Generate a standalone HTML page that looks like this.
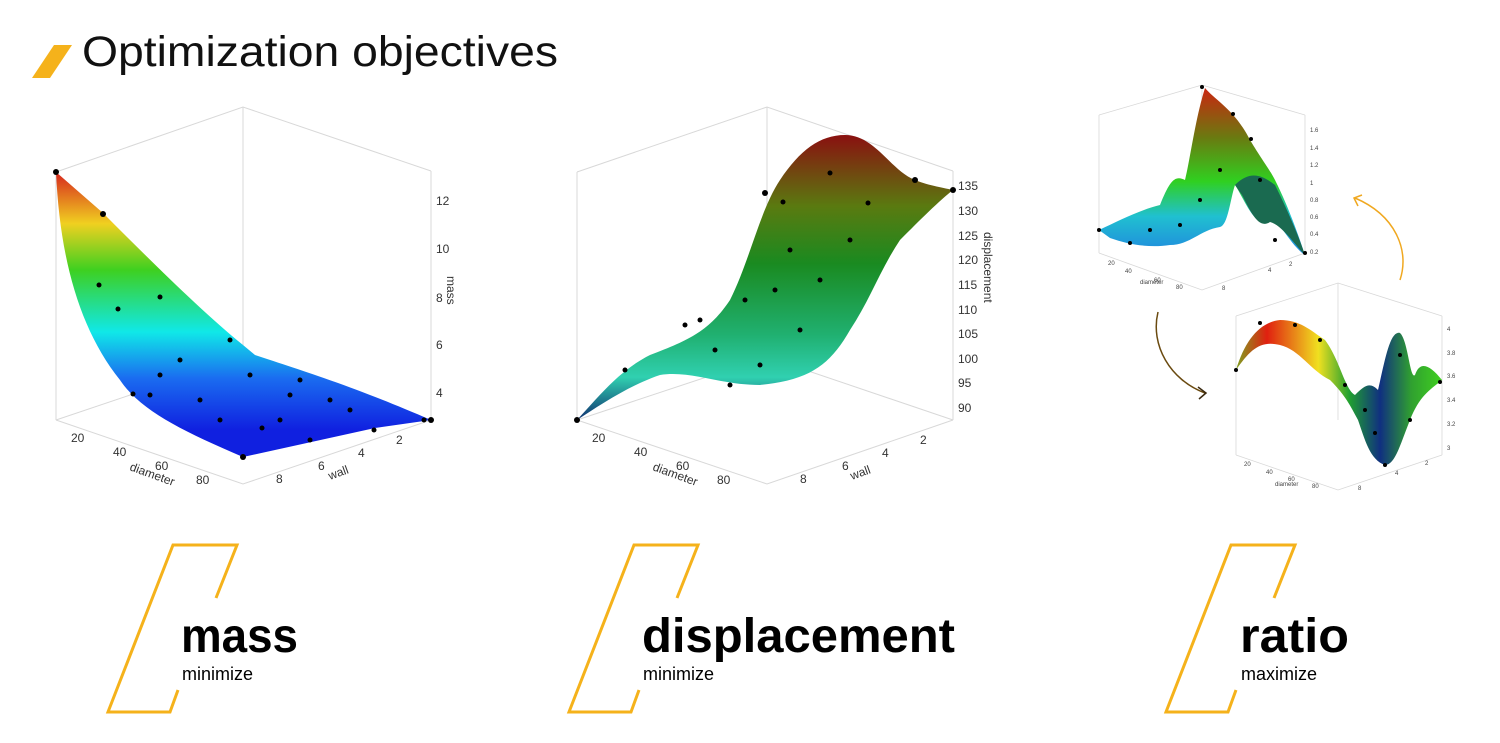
<!DOCTYPE html>
<html><head><meta charset="utf-8"><style>
body{margin:0;background:#fff;width:1500px;height:743px;overflow:hidden;font-family:"Liberation Sans",sans-serif}
svg{position:absolute;left:0;top:0}
</style></head><body>
<svg width="1500" height="743" viewBox="0 0 1500 743" xmlns="http://www.w3.org/2000/svg">
<defs>
<linearGradient id="g1" x1="0" y1="172" x2="0" y2="430" gradientUnits="userSpaceOnUse">
<stop offset="0" stop-color="#d7261e"/><stop offset="0.2" stop-color="#f0d020"/><stop offset="0.38" stop-color="#3ed020"/><stop offset="0.62" stop-color="#10e8e8"/><stop offset="0.8" stop-color="#1a6cf0"/><stop offset="1" stop-color="#1020e0"/></linearGradient>
<linearGradient id="g2" x1="0" y1="135" x2="0" y2="420" gradientUnits="userSpaceOnUse">
<stop offset="0" stop-color="#8a1010"/><stop offset="0.25" stop-color="#5a7a10"/><stop offset="0.45" stop-color="#1a8a20"/><stop offset="0.7" stop-color="#20b070"/><stop offset="0.85" stop-color="#30d0b0"/><stop offset="1" stop-color="#103070"/></linearGradient>
<linearGradient id="g3" x1="0" y1="85" x2="0" y2="260" gradientUnits="userSpaceOnUse">
<stop offset="0" stop-color="#d02010"/><stop offset="0.3" stop-color="#6a7a10"/><stop offset="0.55" stop-color="#30d020"/><stop offset="0.75" stop-color="#20c0d0"/><stop offset="1" stop-color="#2080e0"/></linearGradient>
<linearGradient id="g4" x1="1236" y1="0" x2="1442" y2="0" gradientUnits="userSpaceOnUse">
<stop offset="0" stop-color="#80a020"/><stop offset="0.15" stop-color="#e02010"/><stop offset="0.4" stop-color="#f0e020"/><stop offset="0.55" stop-color="#20a030"/><stop offset="0.7" stop-color="#103080"/><stop offset="0.85" stop-color="#30a030"/><stop offset="1" stop-color="#40d020"/></linearGradient>
</defs>
<!-- title -->
<polygon points="54,45 72,45 50,78 32,78" fill="#f5b21b"/>
<text x="82" y="66" font-size="43" fill="#111" textLength="476" lengthAdjust="spacingAndGlyphs">Optimization objectives</text>

<!-- chart 1 -->
<g stroke="#d8d8d8" stroke-width="1" fill="none">
<polyline points="56,172 243,107 431,171"/><line x1="243" y1="107" x2="243" y2="357"/>
<polyline points="56,420 243,484 431,420"/><line x1="56" y1="172" x2="56" y2="420"/><line x1="431" y1="171" x2="431" y2="420"/>
<line x1="56" y1="420" x2="243" y2="357"/><line x1="243" y1="357" x2="431" y2="420"/>
</g>
<path d="M56,172 L103,213 C150,260 200,310 243,345 L255,355 C300,370 350,385 431,420 L375,428 L243,457 C180,430 140,410 120,380 C80,330 60,260 56,172Z" fill="url(#g1)"/>
<g fill="#000"><circle cx="56" cy="172" r="3"/><circle cx="103" cy="214" r="3"/><circle cx="99" cy="285" r="2.5"/><circle cx="118" cy="309" r="2.5"/><circle cx="160" cy="297" r="2.5"/><circle cx="133" cy="394" r="2.5"/><circle cx="243" cy="457" r="3"/><circle cx="431" cy="420" r="3"/><circle cx="424" cy="420" r="2.5"/><circle cx="230" cy="340" r="2.5"/><circle cx="250" cy="375" r="2.5"/><circle cx="300" cy="380" r="2.5"/><circle cx="200" cy="400" r="2.5"/><circle cx="280" cy="420" r="2.5"/><circle cx="330" cy="400" r="2.5"/><circle cx="374" cy="430" r="2.5"/><circle cx="180" cy="360" r="2.5"/><circle cx="150" cy="395" r="2.5"/><circle cx="262" cy="428" r="2.5"/><circle cx="310" cy="440" r="2.5"/><circle cx="350" cy="410" r="2.5"/><circle cx="220" cy="420" r="2.5"/><circle cx="290" cy="395" r="2.5"/><circle cx="160" cy="375" r="2.5"/></g>
<g font-size="12" fill="#333">
<text x="436" y="205">12</text><text x="436" y="253">10</text><text x="436" y="302">8</text><text x="436" y="349">6</text><text x="436" y="397">4</text>
<text x="447" y="276" transform="rotate(90 447 276)">mass</text>
<text x="71" y="442">20</text><text x="113" y="456">40</text><text x="155" y="470">60</text><text x="196" y="484">80</text>
<text x="129" y="470" transform="rotate(20 129 470)">diameter</text>
<text x="276" y="483">8</text><text x="318" y="470">6</text><text x="358" y="457">4</text><text x="396" y="444">2</text>
<text x="330" y="480" transform="rotate(-20 330 480)">wall</text>
</g>

<!-- chart 2 -->
<g stroke="#d8d8d8" stroke-width="1" fill="none">
<polyline points="577,172 767,107 953,171"/><line x1="767" y1="107" x2="767" y2="357"/>
<polyline points="577,420 767,484 953,420"/><line x1="577" y1="172" x2="577" y2="420"/><line x1="953" y1="171" x2="953" y2="420"/>
<line x1="577" y1="420" x2="767" y2="357"/><line x1="767" y1="357" x2="953" y2="420"/>
</g>
<path d="M577,420 C600,395 620,370 650,355 C690,340 710,330 730,300 C750,260 760,210 780,180 C800,150 820,135 845,135 C875,135 890,170 915,180 C930,186 945,188 953,190 C940,200 920,220 900,240 C880,270 870,300 850,330 C830,365 810,380 760,385 C720,385 690,370 660,375 C630,385 600,405 577,420Z" fill="url(#g2)"/>
<g fill="#000"><circle cx="577" cy="420" r="3"/><circle cx="625" cy="370" r="2.5"/><circle cx="685" cy="325" r="2.5"/><circle cx="765" cy="193" r="3"/><circle cx="783" cy="202" r="2.5"/><circle cx="830" cy="173" r="2.5"/><circle cx="868" cy="203" r="2.5"/><circle cx="915" cy="180" r="3"/><circle cx="953" cy="190" r="3"/><circle cx="790" cy="250" r="2.5"/><circle cx="745" cy="300" r="2.5"/><circle cx="715" cy="350" r="2.5"/><circle cx="760" cy="365" r="2.5"/><circle cx="800" cy="330" r="2.5"/><circle cx="820" cy="280" r="2.5"/><circle cx="850" cy="240" r="2.5"/><circle cx="730" cy="385" r="2.5"/><circle cx="700" cy="320" r="2.5"/><circle cx="775" cy="290" r="2.5"/></g>
<g font-size="12" fill="#333">
<text x="958" y="190">135</text><text x="958" y="215">130</text><text x="958" y="240">125</text><text x="958" y="264">120</text><text x="958" y="289">115</text><text x="958" y="314">110</text><text x="958" y="338">105</text><text x="958" y="363">100</text><text x="958" y="387">95</text><text x="958" y="412">90</text>
<text x="984" y="232" transform="rotate(90 984 232)">displacement</text>
<text x="592" y="442">20</text><text x="634" y="456">40</text><text x="676" y="470">60</text><text x="717" y="484">80</text>
<text x="652" y="470" transform="rotate(20 652 470)">diameter</text>
<text x="800" y="483">8</text><text x="842" y="470">6</text><text x="882" y="457">4</text><text x="920" y="444">2</text>
<text x="852" y="480" transform="rotate(-20 852 480)">wall</text>
</g>

<!-- chart 3 top -->
<g stroke="#d8d8d8" stroke-width="0.8" fill="none">
<polyline points="1099,115 1202,85 1305,115"/><line x1="1202" y1="85" x2="1202" y2="230"/>
<polyline points="1099,253 1202,290 1305,253"/><line x1="1099" y1="115" x2="1099" y2="253"/><line x1="1305" y1="115" x2="1305" y2="253"/>
</g>
<path d="M1099,230 C1120,220 1140,210 1160,205 C1170,180 1175,175 1185,180 C1190,160 1195,120 1205,88 C1215,100 1235,110 1250,140 C1262,160 1270,170 1275,180 C1290,210 1300,240 1305,255 C1290,245 1280,220 1270,220 C1255,230 1245,200 1235,185 C1230,200 1228,225 1220,227 C1200,230 1190,245 1170,245 C1150,248 1130,245 1110,238Z" fill="url(#g3)"/>
<path d="M1235,185 C1250,170 1262,175 1275,185 C1290,215 1300,240 1305,255 C1295,245 1282,225 1270,222 C1258,230 1250,210 1242,195Z" fill="#1a6a50"/>
<g fill="#000"><circle cx="1099" cy="230" r="2"/><circle cx="1202" cy="87" r="2"/><circle cx="1233" cy="114" r="2"/><circle cx="1251" cy="139" r="2"/><circle cx="1305" cy="253" r="2"/><circle cx="1180" cy="225" r="2"/><circle cx="1150" cy="230" r="2"/><circle cx="1200" cy="200" r="2"/><circle cx="1220" cy="170" r="2"/><circle cx="1260" cy="180" r="2"/><circle cx="1130" cy="243" r="2"/><circle cx="1275" cy="240" r="2"/></g>
<g font-size="6" fill="#444">
<text x="1310" y="132">1.6</text><text x="1310" y="150">1.4</text><text x="1310" y="167">1.2</text><text x="1310" y="185">1</text><text x="1310" y="202">0.8</text><text x="1310" y="219">0.6</text><text x="1310" y="236">0.4</text><text x="1310" y="254">0.2</text>
<text x="1108" y="265">20</text><text x="1125" y="273">40</text><text x="1154" y="282">60</text><text x="1176" y="289">80</text><text x="1140" y="284">diameter</text>
<text x="1222" y="290">8</text><text x="1268" y="272">4</text><text x="1289" y="266">2</text>
</g>

<!-- chart 3 bottom -->
<g stroke="#d8d8d8" stroke-width="0.8" fill="none">
<polyline points="1236,316 1338,283 1442,316"/><line x1="1338" y1="283" x2="1338" y2="420"/>
<polyline points="1236,455 1338,490 1442,455"/><line x1="1236" y1="316" x2="1236" y2="455"/><line x1="1442" y1="316" x2="1442" y2="455"/>
</g>
<path d="M1236,370 C1245,340 1260,322 1280,320 C1300,320 1310,330 1325,340 C1340,360 1345,390 1355,395 C1365,385 1370,382 1378,390 C1385,360 1390,330 1400,333 C1408,340 1410,380 1415,375 C1420,360 1430,365 1442,380 C1430,390 1420,395 1410,420 C1400,445 1395,465 1385,465 C1370,460 1365,440 1358,420 C1350,405 1345,395 1330,380 C1310,370 1300,350 1280,345 C1260,340 1250,350 1236,370Z" fill="url(#g4)"/>
<g fill="#000"><circle cx="1236" cy="370" r="2"/><circle cx="1260" cy="323" r="2"/><circle cx="1295" cy="325" r="2"/><circle cx="1320" cy="340" r="2"/><circle cx="1345" cy="385" r="2"/><circle cx="1385" cy="465" r="2"/><circle cx="1440" cy="382" r="2"/><circle cx="1375" cy="433" r="2"/><circle cx="1410" cy="420" r="2"/><circle cx="1365" cy="410" r="2"/><circle cx="1400" cy="355" r="2"/></g>
<g font-size="6" fill="#444">
<text x="1447" y="331">4</text><text x="1447" y="355">3.8</text><text x="1447" y="378">3.6</text><text x="1447" y="402">3.4</text><text x="1447" y="426">3.2</text><text x="1447" y="450">3</text>
<text x="1244" y="466">20</text><text x="1266" y="474">40</text><text x="1288" y="481">60</text><text x="1312" y="488">80</text><text x="1275" y="486">diameter</text>
<text x="1358" y="490">8</text><text x="1395" y="475">4</text><text x="1425" y="465">2</text>
</g>
<!-- arrows -->
<path d="M1400,280 C1410,250 1395,215 1355,198" fill="none" stroke="#f0a820" stroke-width="1.5"/>
<polyline points="1362,195 1354,198 1358,206" fill="none" stroke="#f0a820" stroke-width="1.5"/>
<path d="M1158,312 C1150,345 1170,380 1205,393" fill="none" stroke="#6a4a10" stroke-width="1.5"/>
<polyline points="1198,387 1206,393 1199,399" fill="none" stroke="#3a2a10" stroke-width="1.5"/>

<!-- bottom labels -->
<g fill="none" stroke="#f5b21b" stroke-width="3" stroke-linejoin="miter">
<polyline points="216,598 237,545 173,545 108,712 170,712 178,690"/>
<polyline points="677,598 698,545 634,545 569,712 631,712 639,690"/>
<polyline points="1274,598 1295,545 1231,545 1166,712 1228,712 1236,690"/>
</g>
<g fill="#000">
<text x="181" y="652" font-size="48" font-weight="bold" textLength="117" lengthAdjust="spacingAndGlyphs">mass</text>
<text x="182" y="680" font-size="18">minimize</text>
<text x="642" y="652" font-size="48" font-weight="bold" textLength="313" lengthAdjust="spacingAndGlyphs">displacement</text>
<text x="643" y="680" font-size="18">minimize</text>
<text x="1240" y="652" font-size="48" font-weight="bold" textLength="109" lengthAdjust="spacingAndGlyphs">ratio</text>
<text x="1241" y="680" font-size="18">maximize</text>
</g>
</svg>
</body></html>
